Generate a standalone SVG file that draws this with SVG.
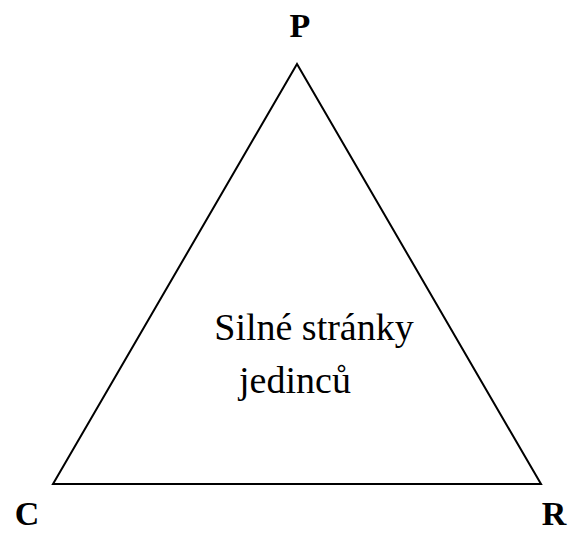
<svg xmlns="http://www.w3.org/2000/svg" width="573" height="533" viewBox="0 0 573 533">
<style>
.lbl{font-family:"Liberation Serif",serif;font-weight:bold;font-size:34px;fill:#000}
.mid{font-family:"Liberation Serif",serif;font-size:38px;fill:#000;text-anchor:middle}
</style>
<rect width="573" height="533" fill="#fff"/>
<g id="connectors">
<polygon points="297,64 53,484 541,484" fill="none" stroke="#000" stroke-width="2"/>
</g>
<g id="P"><text class="lbl" x="300" y="37" text-anchor="middle">P</text></g>
<g id="C"><text class="lbl" x="27" y="525" text-anchor="middle">C</text></g>
<g id="R"><text class="lbl" x="554" y="525" text-anchor="middle">R</text></g>
<g id="center">
<text class="mid" x="314" y="340">Silné stránky</text>
<text class="mid" x="295" y="393">jedinců</text>
</g>
</svg>
